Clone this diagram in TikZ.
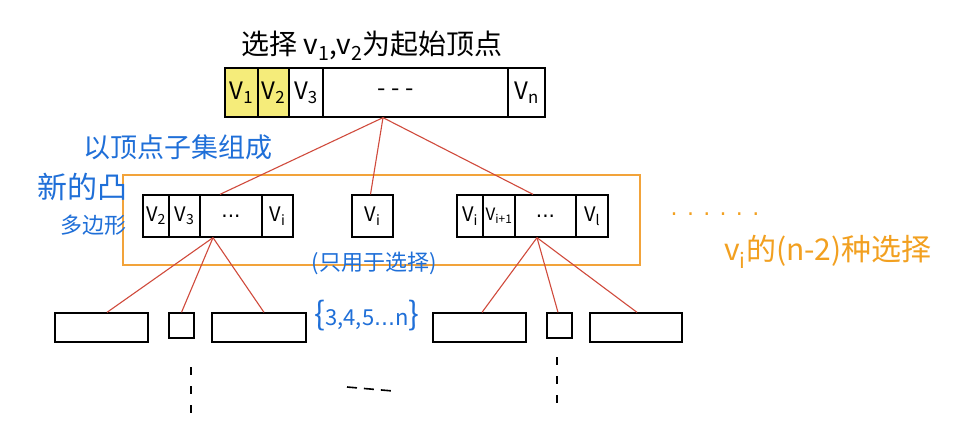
\documentclass[tikz,border=0pt]{standalone}
\usepackage{fontspec}
\setmainfont{Noto Sans CJK SC}
\newfontfamily\lat{DejaVu Sans}
\usetikzlibrary{calc}
\definecolor{redline}{HTML}{D04A3C}
\definecolor{orangebox}{HTML}{F2A33A}
\definecolor{orangetext}{HTML}{F2A020}
\definecolor{bluetext}{HTML}{1F6FD8}
\definecolor{hilite}{HTML}{F5EC7A}
\begin{document}
\begin{tikzpicture}[x=1pt,y=-1pt,
  box/.style={draw=black, line width=1.3pt, inner sep=0pt},
  topcell/.style={box, minimum height=49pt, font=\fontsize{24}{24}\selectfont},
  subcell/.style={box, minimum height=42pt, font=\fontsize{20}{20}\selectfont},
  leaf/.style={box, minimum height=29pt},
  smallleaf/.style={box, minimum height=25pt, minimum width=25pt},
  tie/.style={draw=redline, line width=1.1pt},
  dots/.style={draw=black, line width=1.6pt},
  bluenote/.style={text=bluetext, inner sep=0pt},
  orangenote/.style={text=orangetext, inner sep=0pt}]
\useasboundingbox[fill=white] (0,0) rectangle (963,442);

% title
\node[inner sep=0pt, font=\fontsize{28}{28}\selectfont] (title) at (372,46) {选择 v\textsubscript{1},v\textsubscript{2}为起始顶点};

% top array
\node[topcell, fill=hilite, minimum width=33pt] (a1) at (241.5,92.5) {V\textsubscript{1}};
\node[topcell, fill=hilite, minimum width=31pt] (a2) at (273.5,92.5) {V\textsubscript{2}};
\node[topcell, minimum width=34pt] (a3) at (306,92.5) {V\textsubscript{3}};
\node[topcell, minimum width=185pt] (a4) at (415.5,92.5) {- - -\kern40pt\relax};
\node[topcell, minimum width=37pt] (a5) at (526.5,92.5) {V\textsubscript{n}};

% orange frame
\node[draw=orangebox, line width=1.3pt, minimum width=517pt, minimum height=90pt, inner sep=0pt] (frame) at (381.5,220) {};

% second level
\node[subcell, minimum width=26pt] (b1) at (156,216) {V\textsubscript{2}};
\node[subcell, minimum width=31pt] (b2) at (184.5,216) {V\textsubscript{3}};
\node[subcell, minimum width=62pt] (b3) at (231,216) {\lat ...};
\node[subcell, minimum width=31pt] (b4) at (277.5,216) {V\textsubscript{i}};

\node[subcell, minimum width=41pt] (m) at (372.5,216) {V\textsubscript{i}};

\node[subcell, minimum width=26pt] (c1) at (470,216) {V\textsubscript{i}};
\node[subcell, minimum width=32pt, font=\fontsize{17}{17}\selectfont] (c2) at (499,216) {V\textsubscript{i+1}};
\node[subcell, minimum width=61pt] (c3) at (545.5,216) {\lat ...};
\node[subcell, minimum width=32pt] (c4) at (592,216) {V\textsubscript{l}};

% leaves
\node[leaf, minimum width=93pt] (d1) at (101.5,327.5) {};
\node[smallleaf] (d2) at (181.5,325.5) {};
\node[leaf, minimum width=94pt] (d3) at (259,327.5) {};
\node[leaf, minimum width=93pt] (d4) at (479.5,327.5) {};
\node[smallleaf] (d5) at (559.5,325.5) {};
\node[leaf, minimum width=92pt] (d6) at (636,327.5) {};

% connectors
\coordinate (p0) at ([xshift=-32.5pt]a4.south);
\draw[tie] (p0) -- ([xshift=-11pt]b3.north);
\draw[tie] (p0) -- ([xshift=-2pt]m.north);
\draw[tie] (p0) -- ([xshift=-12.5pt]c3.north);

\coordinate (p1) at ([xshift=-18pt]b3.south);
\draw[tie] (p1) -- ([xshift=5.5pt]d1.north);
\draw[tie] (p1) -- (d2.north);
\draw[tie] (p1) -- ([xshift=5pt]d3.north);

\coordinate (p2) at ([xshift=-8.5pt]c3.south);
\draw[tie] (p2) -- ([xshift=2.5pt]d4.north);
\draw[tie] (p2) -- ([xshift=-1.5pt]d5.north);
\draw[tie] (p2) -- ([xshift=1pt]d6.north);

% continuation marks
\coordinate (v1a) at (191,367);
\coordinate (v1b) at (191,413);
\coordinate (v2a) at (557,357);
\coordinate (v2b) at (557,403);
\coordinate (h1a) at (347,387);
\coordinate (h1b) at (393,391);
\draw[dots, dash pattern=on 8pt off 11pt] (v1a) -- (v1b);
\draw[dots, dash pattern=on 8pt off 11pt] (v2a) -- (v2b);
\draw[dots, dash pattern=on 10pt off 7pt] (h1a) -- (h1b);

% blue notes
\node[bluenote, font=\fontsize{27}{27}\selectfont] (n1) at (178,147) {以顶点子集组成};
\node[bluenote, font=\fontsize{30}{30}\selectfont] (n2) at (82,187) {新的凸};
\node[bluenote, font=\fontsize{22}{22}\selectfont] (n3) at (93,225) {多边形};
\node[bluenote, font=\fontsize{22}{22}\selectfont] (n4) at (374,263) {(只用于选择)};
\node[bluenote, font=\fontsize{22}{22}\selectfont] (n5) at (367,316) {{\fontsize{32}{32}\selectfont\{}3,4,5{\lat ...}n{\fontsize{32}{32}\selectfont\}}};

% orange notes
\node[orangenote, font=\fontsize{22}{22}\selectfont\lat] (o1) at (715,214) {. . . . . .};
\node[orangenote, font=\fontsize{30}{30}\selectfont] (o2) at (828,252) {v\textsubscript{i}的(n-2)种选择};
\end{tikzpicture}
\end{document}
